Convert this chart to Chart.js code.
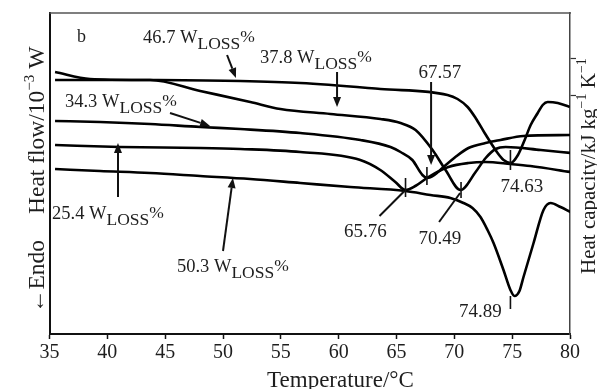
<!DOCTYPE html>
<html>
<head>
<meta charset="utf-8">
<script src="https://cdn.jsdelivr.net/npm/chart.js@4.4.1/dist/chart.umd.min.js"></script>
<style>
html,body{margin:0;padding:0;background:#fff;}
canvas{display:block;}
</style>
</head>
<body>
<canvas id="c" width="597" height="389"></canvas>
<script>
// ---- data (temperature °C, heat flow in arbitrary units) ----
const temp467 = [35.48, 38.51, 43.70, 51.49, 56.69, 63.61, 69.41, 70.28, 71.15, 71.84, 72.62, 73.74, 74.26, 74.87, 75.50, 76.08, 76.60, 77.21, 77.64, 78.07, 78.94, 79.98];
const flow467 = [262, 255, 254, 253, 251, 245, 239, 235, 227, 216, 201, 181, 174, 171, 179, 194, 209, 221, 229, 232, 231, 227];

const temp378 = [35.48, 38.51, 43.70, 48.03, 52.36, 54.96, 59.29, 63.61, 65.35, 66.65, 68.12, 69.24, 70.54, 71.84, 72.71, 73.57, 74.44, 77.47, 80.06];
const flow378 = [254, 254, 254, 243, 232, 225, 220, 215, 211, 204, 184, 164, 144, 162, 176, 185, 187, 184, 181];

const temp343 = [35.48, 39.37, 43.70, 48.03, 51.49, 56.69, 61.88, 64.48, 65.35, 66.37, 67.24, 67.67, 68.28, 68.97, 70.09, 71.22, 72.69, 73.99, 75.98, 80.05];
const flow343 = [213, 212, 210, 207, 205, 201, 194, 187, 182, 174, 159, 156, 159, 166, 177, 186, 191, 194, 198, 199];

const temp254 = [35.48, 41.10, 48.02, 51.49, 56.68, 61.87, 63.60, 64.90, 65.77, 66.63, 67.76, 69.49, 71.22, 72.69, 74.85, 76.58, 80.05];
const flow254 = [189, 187, 186, 185, 182, 174, 164, 152, 144, 148, 157, 167, 171, 172, 170, 168, 162];

const temp503 = [35.48, 39.37, 43.70, 48.02, 52.35, 56.68, 61.01, 65.77, 67.93, 69.66, 70.79, 71.57, 72.26, 72.87, 73.39, 74.25, 74.85, 75.20, 75.63, 75.98, 76.85, 77.71, 78.32, 79.18, 80.05];
const flow503 = [165, 163, 161, 158, 155, 151, 147, 143, 139, 136, 131, 126, 117, 104, 91, 64, 44, 38, 43, 57, 91, 124, 131, 127, 122];

const xTicks = [35, 40, 45, 50, 55, 60, 65, 70, 75, 80];
const rightTickValues = [276, 239];

const seriesNames = ['46.7', '37.8', '34.3', '25.4', '50.3'];
const peakLabels = ['67.57', '74.63', '65.76', '70.49', '74.89'];

// ---- build datasets ----
function pts(t, v) { return t.map((tt, i) => ({ x: tt, y: v[i] })); }
const seriesData = [
  pts(temp467, flow467), pts(temp378, flow378), pts(temp343, flow343),
  pts(temp254, flow254), pts(temp503, flow503)
];

const SERIF = '"Liberation Serif", "DejaVu Serif", serif';
const TXT = '#1e1e1e';

function f(size) { return size + 'px ' + SERIF; }

function drawLine(ctx, x1, y1, x2, y2, w, col) {
  ctx.beginPath(); ctx.moveTo(x1, y1); ctx.lineTo(x2, y2);
  ctx.lineWidth = w; ctx.strokeStyle = col; ctx.stroke();
}
function drawArrow(ctx, x1, y1, x2, y2) {
  const ang = Math.atan2(y2 - y1, x2 - x1);
  const L = 10, W = 4;
  const bx = x2 - L * Math.cos(ang), by = y2 - L * Math.sin(ang);
  drawLine(ctx, x1, y1, bx, by, 2, '#111');
  ctx.beginPath();
  ctx.moveTo(x2, y2);
  ctx.lineTo(bx + W * Math.sin(ang), by - W * Math.cos(ang));
  ctx.lineTo(bx - W * Math.sin(ang), by + W * Math.cos(ang));
  ctx.closePath(); ctx.fillStyle = '#111'; ctx.fill();
}
function richText(ctx, segs, x, y) {
  let cx = x;
  for (const s of segs) {
    ctx.font = f(s.size);
    ctx.fillText(s.t, cx, y + (s.dy || 0));
    cx += ctx.measureText(s.t).width;
  }
  return cx;
}
function lossLabel(ctx, num, x, y) {
  richText(ctx, [
    { t: num + ' W', size: 18.5 },
    { t: 'LOSS', size: 17.5, dy: 6 },
    { t: '%', size: 17.5, dy: -1 }
  ], x, y);
}

// annotation layout in data coordinates (temperature, heat-flow units)
const lossLabelPos = [
  { at: [43.09, 291], arrow: [[50.35, 279], [51.12, 256]] },
  { at: [53.20, 271], arrow: [[59.86, 262], [59.86, 227]] },
  { at: [36.34, 227], arrow: [[45.42, 221], [48.88, 208]] },
  { at: [35.22, 115], arrow: [[40.92, 137], [40.92, 191]] },
  { at: [46.02, 62],  arrow: [[50.00, 83], [50.86, 156]] }
];
const peakPos = [
  { at: [68.76, 256], arrow: [[67.99, 252], [67.99, 169]], tick: [67.63, 167, 149] },
  { at: [75.85, 142], tick: [74.85, 184, 164] },
  { at: [62.30, 97],  line: [[63.53, 118], [65.69, 143]], tick: [65.78, 156, 137] },
  { at: [68.76, 90],  line: [[68.68, 112], [70.50, 141]], tick: [70.58, 152, 136] },
  { at: [72.26, 17],  tick: [74.85, 38, 25] }
];

const annotPlugin = {
  id: 'annot',
  afterDraw(chart) {
    const { ctx, chartArea: ca } = chart;
    const xs = chart.scales.x, ys = chart.scales.y;
    const px = t => xs.getPixelForValue(t), py = v => ys.getPixelForValue(v);
    ctx.save();
    // top frame line
    drawLine(ctx, ca.left, ca.top, ca.right + 1, ca.top, 1.4, '#555');

    ctx.fillStyle = TXT;
    ctx.textBaseline = 'alphabetic';
    ctx.textAlign = 'left';
    // panel letter
    ctx.font = f(18);
    ctx.fillText('b', px(37.38), py(292));

    // loss labels + arrows
    seriesNames.forEach((n, i) => {
      const p = lossLabelPos[i];
      ctx.fillStyle = TXT; ctx.textAlign = 'left';
      lossLabel(ctx, n, px(p.at[0]), py(p.at[1]));
      const a = p.arrow;
      drawArrow(ctx, px(a[0][0]), py(a[0][1]), px(a[1][0]), py(a[1][1]));
    });

    // peak labels
    peakLabels.forEach((lab, i) => {
      const p = peakPos[i];
      ctx.fillStyle = TXT; ctx.textAlign = 'center'; ctx.font = f(19);
      ctx.fillText(lab, px(p.at[0]), py(p.at[1]));
      if (p.arrow) drawArrow(ctx, px(p.arrow[0][0]), py(p.arrow[0][1]), px(p.arrow[1][0]), py(p.arrow[1][1]));
      if (p.line) drawLine(ctx, px(p.line[0][0]), py(p.line[0][1]), px(p.line[1][0]), py(p.line[1][1]), 2, '#111');
      if (p.tick) drawLine(ctx, px(p.tick[0]), py(p.tick[1]), px(p.tick[0]), py(p.tick[2]), 1.6, '#111');
    });

    // x axis title
    ctx.textAlign = 'center'; ctx.fillStyle = TXT; ctx.font = f(23);
    ctx.fillText('Temperature/°C', ca.left + 291, 387);

    // left axis titles (rotated)
    ctx.textAlign = 'left';
    ctx.save();
    ctx.translate(ca.left - 6, 214); ctx.rotate(-Math.PI / 2);
    richText(ctx, [
      { t: 'Heat flow/10', size: 23.5 },
      { t: '−3', size: 15, dy: -10 },
      { t: ' W', size: 23.5 }
    ], 0, 0);
    ctx.restore();
    ctx.save();
    ctx.translate(ca.left - 6, 313); ctx.rotate(-Math.PI / 2);
    richText(ctx, [{ t: '←Endo', size: 23.5 }], 0, 0);
    ctx.restore();

    // right axis title
    ctx.save();
    ctx.translate(ca.right + 25, 274); ctx.rotate(-Math.PI / 2);
    richText(ctx, [
      { t: 'Heat capacity/kJ kg', size: 21 },
      { t: '−1', size: 14, dy: -9 },
      { t: ' K', size: 21 },
      { t: '−1', size: 14, dy: -9 }
    ], 0, 0);
    ctx.restore();
    ctx.restore();
  }
};

new Chart(document.getElementById('c'), {
  type: 'line',
  data: {
    datasets: seriesData.map((d, i) => ({
      label: seriesNames[i] + ' WLOSS%',
      data: d,
      borderColor: '#000',
      borderWidth: 2.6,
      pointRadius: 0,
      fill: false,
      cubicInterpolationMode: 'monotone',
      yAxisID: 'y'
    }))
  },
  options: {
    responsive: false,
    animation: false,
    devicePixelRatio: 1,
    layout: { padding: { top: 13, left: 0, right: 0, bottom: 0 } },
    plugins: { legend: { display: false }, tooltip: { enabled: false } },
    scales: {
      x: {
        type: 'linear', min: 35, max: 80,
        afterBuildTicks(s) { s.ticks = xTicks.map(v => ({ value: v })); },
        ticks: { font: { family: SERIF, size: 20 }, color: TXT, padding: 2, maxRotation: 0, autoSkip: false },
        grid: { drawOnChartArea: false, drawTicks: true, tickLength: 5, tickColor: '#111', tickWidth: 1.5 },
        border: { color: '#111', width: 2 },
        afterFit(s) { s.height = 55; }
      },
      y: {
        min: 0, max: 321,
        ticks: { display: false },
        grid: { display: false },
        border: { color: '#111', width: 2 },
        afterFit(s) { s.width = 49.5; }
      },
      y2: {
        position: 'right', min: 0, max: 321,
        afterBuildTicks(s) { s.ticks = rightTickValues.map(v => ({ value: v })); },
        ticks: { display: true, callback: () => '' },
        grid: { drawOnChartArea: false, drawTicks: true, tickLength: 6, tickColor: '#333', tickWidth: 1.2 },
        border: { color: '#444', width: 1.5 },
        afterFit(s) { s.width = 27; }
      }
    }
  },
  plugins: [annotPlugin]
});
</script>
</body>
</html>
